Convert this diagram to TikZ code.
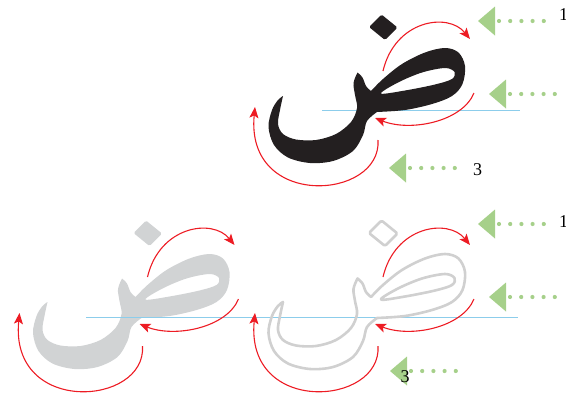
\documentclass[tikz,border=0pt]{standalone}
\usepackage{fontspec}
\setmainfont{Liberation Serif}
\usetikzlibrary{arrows.meta}

\definecolor{inkblack}{RGB}{35,31,32}
\definecolor{lettergray}{RGB}{209,211,212}
\definecolor{outlinegray}{RGB}{208,208,208}
\definecolor{arrowred}{RGB}{237,28,36}
\definecolor{guideblue}{RGB}{140,205,235}
\definecolor{markgreen}{RGB}{166,208,138}

\tikzset{
  strokearrow/.style={arrowred,line width=1.1pt,-{Stealth[length=11pt,width=9pt,inset=2.5pt]}},
  guideline/.style={guideblue,line width=1pt},
  greenmark/.style={fill=markgreen,draw=none},
  steplabel/.style={inner sep=0pt,font=\fontsize{18}{18}\selectfont}
}

\newcommand\dadglyph[1]{%
  \path[#1] plot[smooth,tension=.55] coordinates {(283,96) (280,110) (278,124) (283,134) (296,139.5) (316,140) (336,134) (351,122) (357,108) (355,95) (353.5,83) (357.5,72.5)}
    -- plot[smooth,tension=.55] coordinates {(357.5,72.5) (362.5,77.5) (366,86) (371,91)}
    -- plot[smooth,tension=.55] coordinates {(371,91) (383,79) (402,64) (425,52.5) (445,48) (458.5,52.5) (465,66) (462.5,84) (452,96) (432,104) (405,110) (377,112)}
    -- plot[smooth,tension=.55] coordinates {(377,112) (367,121) (363,135) (353,151) (333,161) (310,163) (288,157.5) (274,145) (268.5,127) (272,110) (278,100) (283,96)} -- cycle
    plot[smooth cycle,tension=.55] coordinates {(381,93.5) (398,82.5) (422,72.5) (445,68) (454.5,72) (452,79) (435,84.5) (405,90.5)}
    {[rounded corners=1.5pt] (381.5,14.5) -- (397.5,27.5) -- (385,40) -- (369,27) -- cycle};}

\newcommand\dadstrokes{%
  \draw[strokearrow] (383,71) .. controls (395,20) and (448,12) .. (470,39);
  \draw[strokearrow] (474,93) .. controls (462,122) and (410,132) .. (375,118);
  \draw[strokearrow] (378,140) .. controls (382,200) and (245,210) .. (255,107);}

\begin{document}
\begin{tikzpicture}[x=1pt,y=-1pt]
  \useasboundingbox (0,0) rectangle (566,402);

  \begin{scope}[shift={(-235.5,206)}]
    \dadglyph{fill=lettergray,even odd rule}
  \end{scope}

  \draw[guideline] (322,110) -- (520,110);
  \draw[guideline] (86,317) -- (518,317);

  \dadglyph{fill=inkblack,even odd rule}
  \dadstrokes

  \begin{scope}[shift={(-235.5,206)}]
    \dadstrokes
  \end{scope}
  \begin{scope}[shift={(0,206)}]
    \dadglyph{draw=outlinegray,line width=2.6pt,line join=round}
    \dadstrokes
  \end{scope}

  \foreach \tx/\ty in {478/21,489/94,389/168,478/224,489/297,390/371}{
    \fill[greenmark] (\tx,\ty) -- (\tx+17,\ty-14.5) -- (\tx+17,\ty+14.5) -- cycle;
    \foreach \k in {0,...,4}
      \fill[greenmark] (\tx+21+11.2*\k,\ty) circle (2.1);
  }

  \node[steplabel,anchor=base west] (topone) at (559,20) {1};
  \node[steplabel,anchor=base] (topthree) at (477.5,175) {3};
  \node[steplabel,anchor=base west] (lowone) at (559,227) {1};
  \node[steplabel,anchor=base] (lowthree) at (405,382) {3};
\end{tikzpicture}
\end{document}
